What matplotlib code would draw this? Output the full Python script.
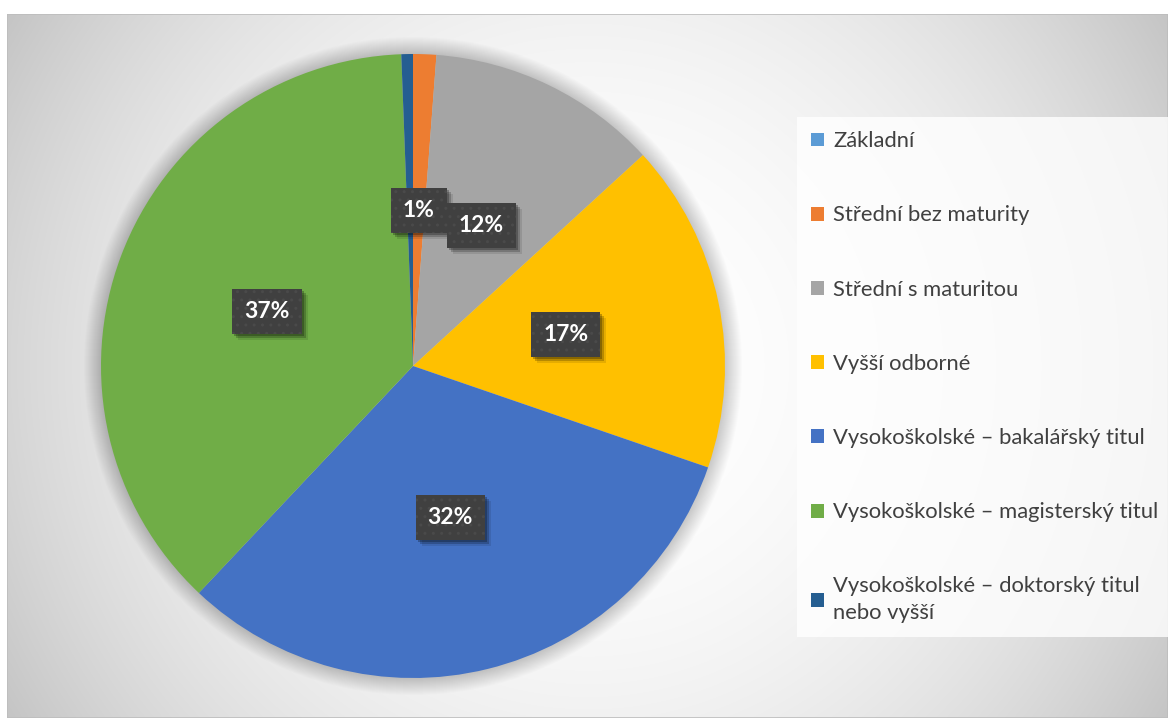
import numpy as np
import matplotlib
matplotlib.use('Agg')
import matplotlib.pyplot as plt
from matplotlib import transforms
from matplotlib.patches import Rectangle, Circle

categories = ['Základní', 'Střední bez maturity', 'Střední s maturitou', 'Vyšší odborné',
              'Vysokoškolské – bakalářský titul', 'Vysokoškolské – magisterský titul',
              'Vysokoškolské – doktorský titul\nnebo vyšší']
shares = [0.0, 1.2, 12.0, 17.1, 31.8, 37.4, 0.6]
colors = ['#5B9BD5', '#ED7D31', '#A5A5A5', '#FFC000', '#4472C4', '#70AD47', '#255E91']

plt.rcParams['font.family'] = ['Lato', 'DejaVu Sans']

W, H = 1168, 718
fig = plt.figure(figsize=(W / 100, H / 100), dpi=100, facecolor='white')

# radial gradient background of the chart area
bx0, by0 = 7, 14
bg = fig.add_axes([bx0 / W, 0, 1 - bx0 / W, 1 - by0 / H], zorder=0)
xs = np.arange(bx0, W)
ys = np.arange(by0, H)
X, Y = np.meshgrid(xs, ys)
r = np.sqrt((X - 588.0) ** 2 + (Y - 366.0) ** 2)
g = 1 - 0.23 * np.clip(r / 680.0, 0, 1.05) ** 2.2
img = np.dstack([g, g, g])
bg.imshow(img, extent=(0, 1, 0, 1), aspect='auto', interpolation='bilinear')
bg.add_patch(Rectangle((0, 0), 1, 1, transform=bg.transAxes, fill=False,
                       ec='#bdbdbd', lw=1.2))
bg.set_xlim(0, 1)
bg.set_ylim(0, 1)
bg.axis('off')

# pie
cx, cy, R = 413, 366, 312
ax = fig.add_axes([(cx - R) / W, (H - cy - R) / H, 2 * R / W, 2 * R / H], zorder=2)

# soft shadow around the pie
for k in range(1, 18):
    ax.add_patch(Circle((0, 0), 1 + k / R, fc='black', ec='none', alpha=0.011,
                        zorder=0, clip_on=False))


def fmt(p):
    return f'{p:.0f}%' if p >= 1 else ''


wedges, texts, autotexts = ax.pie(shares, colors=colors, startangle=90, counterclock=False,
                                  autopct=fmt, pctdistance=0.5,
                                  wedgeprops=dict(linewidth=0, zorder=1))
ax.set_xlim(-1, 1)
ax.set_ylim(-1, 1)
ax.set_aspect('equal')
ax.axis('off')

box_pad = 0.52
for t in autotexts:
    t.set_color('white')
    t.set_fontweight('bold')
    t.set_fontsize(16.5)
    t.set_zorder(6)
    t.set_bbox(dict(boxstyle=f'square,pad={box_pad}', fc='#404040', ec='#4a4a4a', lw=0,
                    hatch='..'))

# legend
leg = fig.legend(wedges, categories, loc='upper left', bbox_to_anchor=(797 / W, 1 - 117 / H),
                 frameon=True, fancybox=False, fontsize=15.8, labelcolor='#404040',
                 labelspacing=2.47, handlelength=0.6, handleheight=0.6, handletextpad=0.4,
                 borderpad=0.65, borderaxespad=0)
leg.get_frame().set_facecolor((1, 1, 1, 0.3))
leg.get_frame().set_edgecolor('none')
leg.set_zorder(3)
for t in leg.get_texts():
    t.set_linespacing(1.42)

# soft drop shadows under the percentage boxes (drawn as patches)
fig.canvas.draw()
for t in autotexts:
    if t.get_text():
        bb = t.get_bbox_patch().get_window_extent()
        for off, a in ((2, 0.25), (4, 0.2), (6, 0.1)):
            ax.add_patch(Rectangle((bb.x0 + off, bb.y0 - off), bb.width, bb.height,
                                   transform=transforms.IdentityTransform(),
                                   fc='black', ec='none', alpha=a, zorder=5, clip_on=False))

fig.savefig('out.png', dpi=100, facecolor='white')
